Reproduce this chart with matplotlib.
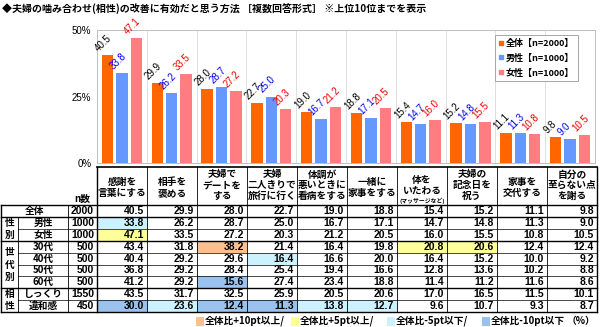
import numpy as np
import matplotlib
matplotlib.use('Agg')
from matplotlib import pyplot as plt
from matplotlib.patches import Rectangle
from matplotlib.lines import Line2D

JP = ['Noto Sans CJK JP', 'DejaVu Sans']
NUM = ['Liberation Sans', 'DejaVu Sans']

title = '◆夫婦の噛み合わせ(相性)の改善に有効だと思う方法 ［複数回答形式］ ※上位10位までを表示'

# column headers (one list of lines per method)
headers = [['感謝を', '言葉にする'], ['相手を', '褒める'], ['夫婦で', 'デートを', 'する'],
           ['夫婦', '二人きりで', '旅行に行く'], ['体調が', '悪いときに', '看病をする'],
           ['一緒に', '家事をする'], ['体を', 'いたわる'], ['夫婦の', '記念日を', '祝う'],
           ['家事を', '交代する'], ['自分の', '至らない点', 'を謝る']]
note_col = 6
note_text = '(マッサージなど)'

series_names = ['全体【n=2000】', '男性【n=1000】', '女性【n=1000】']

all_vals = [40.5, 29.9, 28.0, 22.7, 19.0, 18.8, 15.4, 15.2, 11.1, 9.8]
male = [33.8, 26.2, 28.7, 25.0, 16.7, 17.1, 14.7, 14.8, 11.3, 9.0]
female = [47.1, 33.5, 27.2, 20.3, 21.2, 20.5, 16.0, 15.5, 10.8, 10.5]
age30 = [43.4, 31.8, 38.2, 21.4, 16.4, 19.8, 20.8, 20.6, 12.4, 12.4]
age40 = [40.4, 29.2, 29.6, 16.4, 16.6, 20.0, 16.4, 15.2, 10.0, 9.2]
age50 = [36.8, 29.2, 28.4, 25.4, 19.4, 16.6, 12.8, 13.6, 10.2, 8.8]
age60 = [41.2, 29.2, 15.6, 27.4, 23.4, 18.8, 11.4, 11.2, 11.6, 8.6]
fit = [43.5, 31.7, 32.5, 25.9, 20.5, 20.6, 17.0, 16.5, 11.5, 10.1]
misfit = [30.0, 23.6, 12.4, 11.3, 13.8, 12.7, 9.6, 10.7, 9.3, 8.7]

row_labels = ['全体', '男性', '女性', '30代', '40代', '50代', '60代', 'しっくり', '違和感']
row_n = [2000, 1000, 1000, 500, 500, 500, 500, 1550, 450]
table_rows = [all_vals, male, female, age30, age40, age50, age60, fit, misfit]
# (group label, first row, last row)
groups = [('性別', 1, 2), ('世代別', 3, 6), ('相性', 7, 8)]

# highlighted cells: (row, col) -> level
highlights = {(1, 0): '-5', (2, 0): '+5', (3, 2): '+10', (4, 3): '-5', (6, 2): '-10',
              (3, 6): '+5', (3, 7): '+5', (8, 0): '-10', (8, 1): '-5', (8, 2): '-10',
              (8, 3): '-10', (8, 4): '-5', (8, 5): '-5'}
hl_levels = ['+10', '+5', '-5', '-10']
hl_names = ['全体比+10pt以上/', '全体比+5pt以上/', '全体比-5pt以下/', '全体比-10pt以下']
hl_colors = {'+10': '#FAC090', '+5': '#FFFF99', '-5': '#CCF2FF', '-10': '#99C2EE'}

bar_colors = ['#FF6600', '#6699FF', '#FF7C80']
label_colors = ['#000000', '#0000EE', '#EE0000']

W, H = 600, 327
fig = plt.figure(figsize=(6, 3.27), dpi=100)

# pixel helper axes for the table
tab = fig.add_axes([0, 0, 1, 1])
tab.set_xlim(0, W)
tab.set_ylim(H, 0)
tab.axis('off')

fig.text(2 / W, 1 - 9 / H, title, fontsize=7.2, fontweight='bold', family=JP, va='center', ha='left')

# ---- bar chart ----
ax_l, ax_r, ax_t, ax_b = 97, 595, 30, 163
ax = fig.add_axes([ax_l / W, 1 - ax_b / H, (ax_r - ax_l) / W, (ax_b - ax_t) / H])
idx = np.arange(len(all_vals))
width = 0.23
offs = [-0.29, 0, 0.29]
for k, vals in enumerate([all_vals, male, female]):
    ax.bar(idx + offs[k], vals, width, color=bar_colors[k], label=series_names[k], zorder=2)
    for i, v in enumerate(vals):
        ax.text(idx[i] + offs[k] - 0.14, v + 0.6, '%.1f' % v, rotation=45, rotation_mode='anchor',
                ha='left', va='bottom', fontsize=7, color=label_colors[k], family=NUM)
ax.set_xlim(-0.5, len(all_vals) - 0.5)
ax.set_ylim(0, 50)
ax.set_yticks([0, 25, 50])
ax.set_yticklabels(['0%', '25%', '50%'], fontsize=7, family=NUM)
ax.set_xticks([])
ax.tick_params(axis='y', length=0, pad=4)
for x in np.arange(0.5, len(all_vals) - 0.5, 1):
    ax.axvline(x, color='#D9D9D9', lw=0.6, zorder=0)
for s in ax.spines.values():
    s.set_color('#BFBFBF')
    s.set_linewidth(0.7)
ax.set_facecolor('none')

handles = [Line2D([], [], marker='s', ls='none', color=c, markersize=3.5) for c in bar_colors]
leg = ax.legend(handles, series_names, loc='upper right', bbox_to_anchor=(0.966, 0.962),
                borderaxespad=0, fancybox=False, edgecolor='#A6A6A6', framealpha=1,
                handlelength=0.5, handletextpad=0.3, labelspacing=0.65, borderpad=0.4,
                prop={'family': JP, 'size': 6.5, 'weight': 'bold'})
leg.get_frame().set_linewidth(0.7)

# ---- table ----
col_x0 = 97
col_w = 50
n_x0 = 68
grp_x = 18
left = 1
top = 167
head_b = 205
row_h = 11.9
right = col_x0 + col_w * len(all_vals)
rows_y = [head_b + r * row_h for r in range(len(row_labels) + 1)]
bottom = rows_y[-1]

# header text
for j, lines in enumerate(headers):
    cx = col_x0 + col_w * (j + 0.5)
    ys = [174.5, 185, 195.5] if len(lines) == 3 else [182, 193]
    if j == note_col:
        ys = [180, 191]
        tab.text(cx, 200.5, note_text, fontsize=4.2, fontweight='bold', family=JP, ha='center', va='center')
    for ln, y in zip(lines, ys):
        tab.text(cx, y, ln, fontsize=7, fontweight='bold', family=JP, ha='center', va='center')
tab.text(n_x0 + 14, 199, 'n数', fontsize=7, fontweight='bold', family=JP, ha='center', va='center')

# cell fills
for (r, c), lvl in highlights.items():
    tab.add_patch(Rectangle((col_x0 + c * col_w, rows_y[r]), col_w, row_h, facecolor=hl_colors[lvl],
                            edgecolor='none', zorder=1))

# values
for r, vals in enumerate(table_rows):
    yc = rows_y[r] + row_h / 2
    for c, v in enumerate(vals):
        tab.text(col_x0 + (c + 1) * col_w - 3, yc, '%.1f' % v, fontsize=7.5, fontweight='bold',
                 family=NUM, ha='right', va='center', zorder=3)
    tab.text(col_x0 - 3, yc, str(row_n[r]), fontsize=7.5, fontweight='bold', family=NUM,
             ha='right', va='center', zorder=3)
    if r == 0:
        tab.text((left + n_x0) / 2, yc, row_labels[r], fontsize=7, fontweight='bold', family=JP,
                 ha='center', va='center', zorder=3)
    else:
        tab.text((grp_x + n_x0) / 2, yc, row_labels[r], fontsize=7, fontweight='bold', family=JP,
                 ha='center', va='center', zorder=3)

for name, r0, r1 in groups:
    yc = (rows_y[r0] + rows_y[r1 + 1]) / 2
    n = len(name)
    for k, ch in enumerate(name):
        tab.text((left + grp_x) / 2, yc + (k - (n - 1) / 2) * 12, ch, fontsize=7, fontweight='bold',
                 family=JP, ha='center', va='center', zorder=3)

# grid lines
lk = dict(color='black', zorder=4)
tab.plot([col_x0, right], [top, top], lw=1.2, **lk)
tab.plot([left, right], [head_b, head_b], lw=1.0, **lk)
tab.plot([left, right], [bottom, bottom], lw=1.0, **lk)
thick_after = {0, 2, 6}
for r in range(1, len(row_labels)):
    y = rows_y[r]
    if (r - 1) in thick_after:
        tab.plot([left, right], [y, y], lw=1.0, **lk)
    else:
        tab.plot([grp_x, right], [y, y], lw=0.5, **lk)
for j in range(len(all_vals) + 1):
    x = col_x0 + j * col_w
    tab.plot([x, x], [top, bottom], lw=0.6 if 0 < j < len(all_vals) else 1.0, **lk)
tab.plot([left, left], [head_b, bottom], lw=1.0, **lk)
tab.plot([n_x0, n_x0], [head_b, bottom], lw=0.6, **lk)
tab.plot([grp_x, grp_x], [rows_y[1], bottom], lw=0.6, **lk)

# highlight legend
leg_y = 321
leg_x = [196, 291, 387, 482]
for k, lvl in enumerate(hl_levels):
    tab.add_patch(Rectangle((leg_x[k], leg_y - 4.5), 8, 9, facecolor=hl_colors[lvl], edgecolor='none'))
    tab.text(leg_x[k] + 9, leg_y, hl_names[k], fontsize=7, fontweight='bold', family=JP,
             ha='left', va='center')
tab.text(595, leg_y, '（%）', fontsize=7, fontweight='bold', family=JP, ha='right', va='center')

fig.savefig('out.png', dpi=100)
